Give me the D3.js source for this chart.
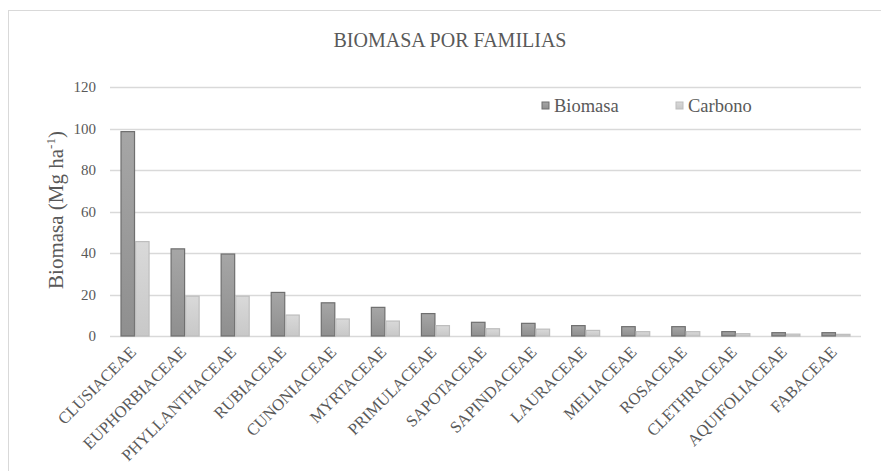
<!DOCTYPE html>
<html>
<head>
<meta charset="utf-8">
<script src="https://d3js.org/d3.v7.min.js"></script>
<style>
  body { margin: 0; background: #fff; }
  svg text { font-family: "Liberation Serif", "DejaVu Serif", serif; fill: #595959; }
</style>
</head>
<body>
<div class="chart"></div>
<script>
// Data
var families = ['CLUSIACEAE', 'EUPHORBIACEAE', 'PHYLLANTHACEAE', 'RUBIACEAE', 'CUNONIACEAE',
                'MYRTACEAE', 'PRIMULACEAE', 'SAPOTACEAE', 'SAPINDACEAE', 'LAURACEAE',
                'MELIACEAE', 'ROSACEAE', 'CLETHRACEAE', 'AQUIFOLIACEAE', 'FABACEAE']
  , biomasa = [98.5, 42, 39.5, 21, 16, 13.8, 10.8, 6.6, 6.1, 5, 4.5, 4.5, 2.1, 1.6, 1.6]
  , carbono = [45.5, 19.2, 19.2, 10.1, 8.2, 7.2, 5, 3.5, 3.3, 2.7, 2.1, 2.1, 1.1, 0.9, 0.8]
  , yTicks = [0, 20, 40, 60, 80, 100, 120]
  , seriesNames = ['Biomasa', 'Carbono'];

// Layout
var w = 881
  , h = 471
  , plotLeft = 110
  , plotRight = 861
  , plotTop = 87
  , plotBottom = 336;

var svg = d3.select('.chart')
            .append('svg')
            .attr('width', w)
            .attr('height', h);

var defs = svg.append('defs');

var addGrad = function (id, c1, c2) {
  var g = defs.append('linearGradient')
              .attr('id', id)
              .attr('x1', 0).attr('y1', 0)
              .attr('x2', 0).attr('y2', 1);
  g.append('stop').attr('offset', '0%').attr('stop-color', c1);
  g.append('stop').attr('offset', '100%').attr('stop-color', c2);
};
addGrad('gBio', '#a6a6a6', '#8f8f8f');
addGrad('gCar', '#d9d9d9', '#c8c8c8');

var fills = ['url(#gBio)', 'url(#gCar)']
  , strokes = ['#6f6f6f', '#bdbdbd'];

// chart frame
svg.append('rect')
    .attr('x', 8.5)
    .attr('y', 10.5)
    .attr('width', 900)
    .attr('height', 500)
    .attr('fill', 'none')
    .attr('stroke', '#d9d9d9');

var x = d3.scaleBand()
          .domain(families)
          .range([plotLeft, plotRight])
          .paddingInner(0.42)
          .paddingOuter(0.21);

var xSub = d3.scaleBand()
             .domain(seriesNames)
             .range([0, x.bandwidth()]);

var y = d3.scaleLinear()
          .domain([0, 120])
          .range([plotBottom, plotTop]);

// grid
svg.append('g')
    .selectAll('line')
    .data(yTicks)
    .enter()
    .append('line')
    .attr('x1', plotLeft)
    .attr('x2', plotRight)
    .attr('y1', function (d) { return Math.round(y(d)) + 0.5; })
    .attr('y2', function (d) { return Math.round(y(d)) + 0.5; })
    .attr('stroke', '#d9d9d9')
    .attr('stroke-width', 1.3);

// y axis labels
var yAxis = svg.append('g')
               .attr('transform', 'translate(' + (plotLeft - 14) + ',0)')
               .call(d3.axisLeft(y).tickValues(yTicks).tickSize(0).tickPadding(0));
yAxis.attr('font-family', null);
yAxis.select('.domain').remove();
yAxis.selectAll('text')
     .attr('font-size', 15);

// bars
var rows = families.map(function (f, i) {
  return { name: f, values: [biomasa[i], carbono[i]] };
});

var groups = svg.append('g')
                .selectAll('g')
                .data(rows)
                .enter()
                .append('g')
                .attr('transform', function (d) { return 'translate(' + x(d.name) + ',0)'; });

groups.selectAll('rect')
      .data(function (d) { return d.values; })
      .enter()
      .append('rect')
      .attr('x', function (d, i) { return xSub(seriesNames[i]) + 0.5; })
      .attr('y', function (d) { return y(d); })
      .attr('width', xSub.bandwidth() - 1)
      .attr('height', function (d) { return plotBottom - y(d); })
      .attr('fill', function (d, i) { return fills[i]; })
      .attr('stroke', function (d, i) { return strokes[i]; })
      .attr('stroke-width', 1.2);

// x labels
var xAxis = svg.append('g')
               .attr('transform', 'translate(0,' + plotBottom + ')')
               .call(d3.axisBottom(x).tickSize(0).tickPadding(0));
xAxis.attr('font-family', null);
xAxis.select('.domain').remove();
xAxis.selectAll('text')
     .attr('font-size', 16.5)
     .attr('text-anchor', 'end')
     .attr('dy', null)
     .attr('transform', 'translate(2,17) rotate(-45)');

// title
svg.append('text')
    .attr('x', 450)
    .attr('y', 47)
    .attr('text-anchor', 'middle')
    .attr('font-size', 20)
    .text('BIOMASA POR FAMILIAS');

// y title
var yTitle = svg.append('text')
                .attr('transform', 'translate(63,210) rotate(-90)')
                .attr('text-anchor', 'middle')
                .attr('font-size', 21);
yTitle.append('tspan').text('Biomasa (Mg ha');
yTitle.append('tspan').attr('dy', -8).attr('font-size', 13).text('-1');
yTitle.append('tspan').attr('dy', 8).text(')');

// legend
var legendX = [542, 676];
var legend = svg.append('g')
                .selectAll('g')
                .data(seriesNames)
                .enter()
                .append('g')
                .attr('transform', function (d, i) { return 'translate(' + legendX[i] + ',102)'; });

legend.append('rect')
      .attr('width', 7)
      .attr('height', 7)
      .attr('fill', function (d, i) { return fills[i]; })
      .attr('stroke', function (d, i) { return strokes[i]; });

legend.append('text')
      .attr('x', 12)
      .attr('y', 10)
      .attr('font-size', 18.5)
      .text(function (d) { return d; });
</script>
</body>
</html>
